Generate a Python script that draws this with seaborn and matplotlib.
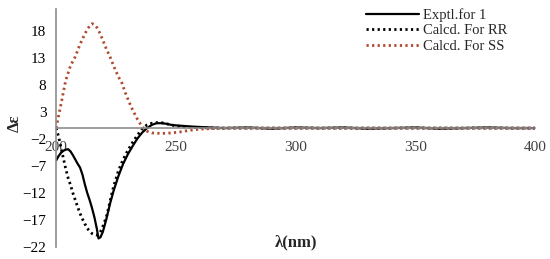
import matplotlib
matplotlib.use('Agg')
import matplotlib.pyplot as plt
import seaborn as sns

# Exptl. curve
wl_exp = [200, 201, 202, 203, 204, 205, 206, 207, 208, 209, 210, 211, 212, 213, 214,
          215, 216, 217, 217.7, 218.5, 219.5, 221, 222.5, 224, 226, 228, 230, 232,
          234, 236, 238, 240, 242, 244, 246, 248, 250, 253, 256, 260, 265, 270, 280,
          290, 300, 310, 320, 330, 340, 350, 360, 370, 380, 390, 400]
de_exp = [-6.0, -5.2, -4.6, -4.2, -4.0, -3.9, -4.3, -5.0, -5.8, -6.6, -7.3, -8.6,
          -10.4, -12.0, -13.3, -14.8, -16.5, -18.6, -20.4, -20.2, -19.2, -16.8, -14.0,
          -11.6, -8.9, -6.6, -4.8, -3.3, -1.9, -0.8, 0.0, 0.6, 0.9, 0.9, 0.8, 0.6, 0.5,
          0.4, 0.3, 0.2, 0.1, 0.0, 0.1, -0.1, 0.1, 0.0, 0.1, -0.1, 0.0, 0.1, -0.1, 0.0,
          0.1, 0.0, 0.0]

# Calcd. RR
wl_rr = [200, 201, 202, 203, 204, 205, 206, 207, 208, 209, 210, 211, 212, 213, 214,
         215, 216, 217, 218, 219, 220, 221, 222, 223, 224, 226, 228, 230, 232, 234,
         236, 238, 240, 242, 244, 246, 248, 250, 254, 258, 265, 300, 350, 400]
de_rr = [0.0, -1.5, -3.5, -5.5, -7.5, -9.2, -10.5, -12.0, -13.3, -14.6, -15.8, -16.8,
         -17.7, -18.5, -19.1, -19.5, -19.7, -19.8, -19.5, -18.8, -17.6, -16.4, -14.6,
         -12.6, -10.8, -7.9, -5.8, -4.1, -2.6, -1.3, -0.1, 0.6, 0.9, 1.0, 1.0, 0.8,
         0.6, 0.4, 0.2, 0.1, 0.0, 0.0, 0.0, 0.0]

# Calcd. SS
wl_ss = [200, 202, 204, 206, 208, 210, 212, 213, 214, 215, 216, 217, 218, 219, 220,
         221, 222.5, 224, 226, 227.5, 229, 230.5, 232, 234, 236, 238, 240, 244, 248,
         252, 256, 260, 265, 270, 300, 350, 400]
de_ss = [0.0, 4.3, 8.8, 11.5, 13.2, 15.5, 17.4, 18.2, 18.9, 19.3, 19.1, 18.6, 17.8,
         16.8, 15.7, 14.6, 13.2, 11.5, 9.5, 8.3, 6.4, 4.8, 3.3, 1.6, 0.2, -0.6, -0.9,
         -1.0, -0.9, -0.7, -0.4, -0.2, -0.1, 0.0, 0.0, 0.0, 0.0]

labels = ['Exptl.for 1', 'Calcd. For RR', 'Calcd. For SS']
yticks = [-22, -17, -12, -7, -2, 3, 8, 13, 18]
xticks = [200, 250, 300, 350, 400]

sns.set_style('white')
plt.rcParams['font.family'] = ['Liberation Serif', 'DejaVu Serif']

fig = plt.figure(figsize=(5.5, 2.59), dpi=100)
ax = fig.add_axes([0.102, 0.046, 0.871, 0.919])

sns.lineplot(x=wl_exp, y=de_exp, ax=ax, color='black', linewidth=1.6,
             label=labels[0], sort=False)
sns.lineplot(x=wl_rr, y=de_rr, ax=ax, color='black', linewidth=2.0,
             linestyle=(0, (0.8, 1.2)), label=labels[1], sort=False)
sns.lineplot(x=wl_ss, y=de_ss, ax=ax, color='#b04a2e', linewidth=2.0,
             linestyle=(0, (0.8, 1.2)), label=labels[2], sort=False)

ax.set_xlim(200, 400)
ax.set_ylim(-22, 22)
ax.set_xticks(xticks)
ax.set_yticks(yticks)
ax.tick_params(labelsize=11, colors='#404040', length=3, width=0.8)
ax.tick_params(axis='x', direction='inout', length=4, pad=7)
ax.tick_params(axis='y', direction='out', length=3, pad=4)
for lab in ax.get_xticklabels() + ax.get_yticklabels():
    lab.set_color('black')

ax.spines['top'].set_visible(False)
ax.spines['right'].set_visible(False)
ax.spines['bottom'].set_position(('data', 0))
ax.spines['bottom'].set_color('#8c8c8c')
ax.spines['left'].set_color('#8c8c8c')
ax.spines['bottom'].set_linewidth(1.2)
ax.spines['left'].set_linewidth(1.2)

ax.set_xlabel('λ(nm)', fontsize=12, fontweight='bold', va='center')
ax.xaxis.set_label_coords(0.5, 0.018)
ax.set_ylabel('Δε', fontsize=12, fontweight='bold')
ax.yaxis.set_label_coords(-0.07, 0.52)

ax.legend(loc='upper right', bbox_to_anchor=(0.96, 1.04), frameon=False,
          fontsize=10.5, handlelength=3.6, labelspacing=0.15, handletextpad=0.3,
          borderaxespad=0.2)

fig.savefig('out.png', dpi=100)
